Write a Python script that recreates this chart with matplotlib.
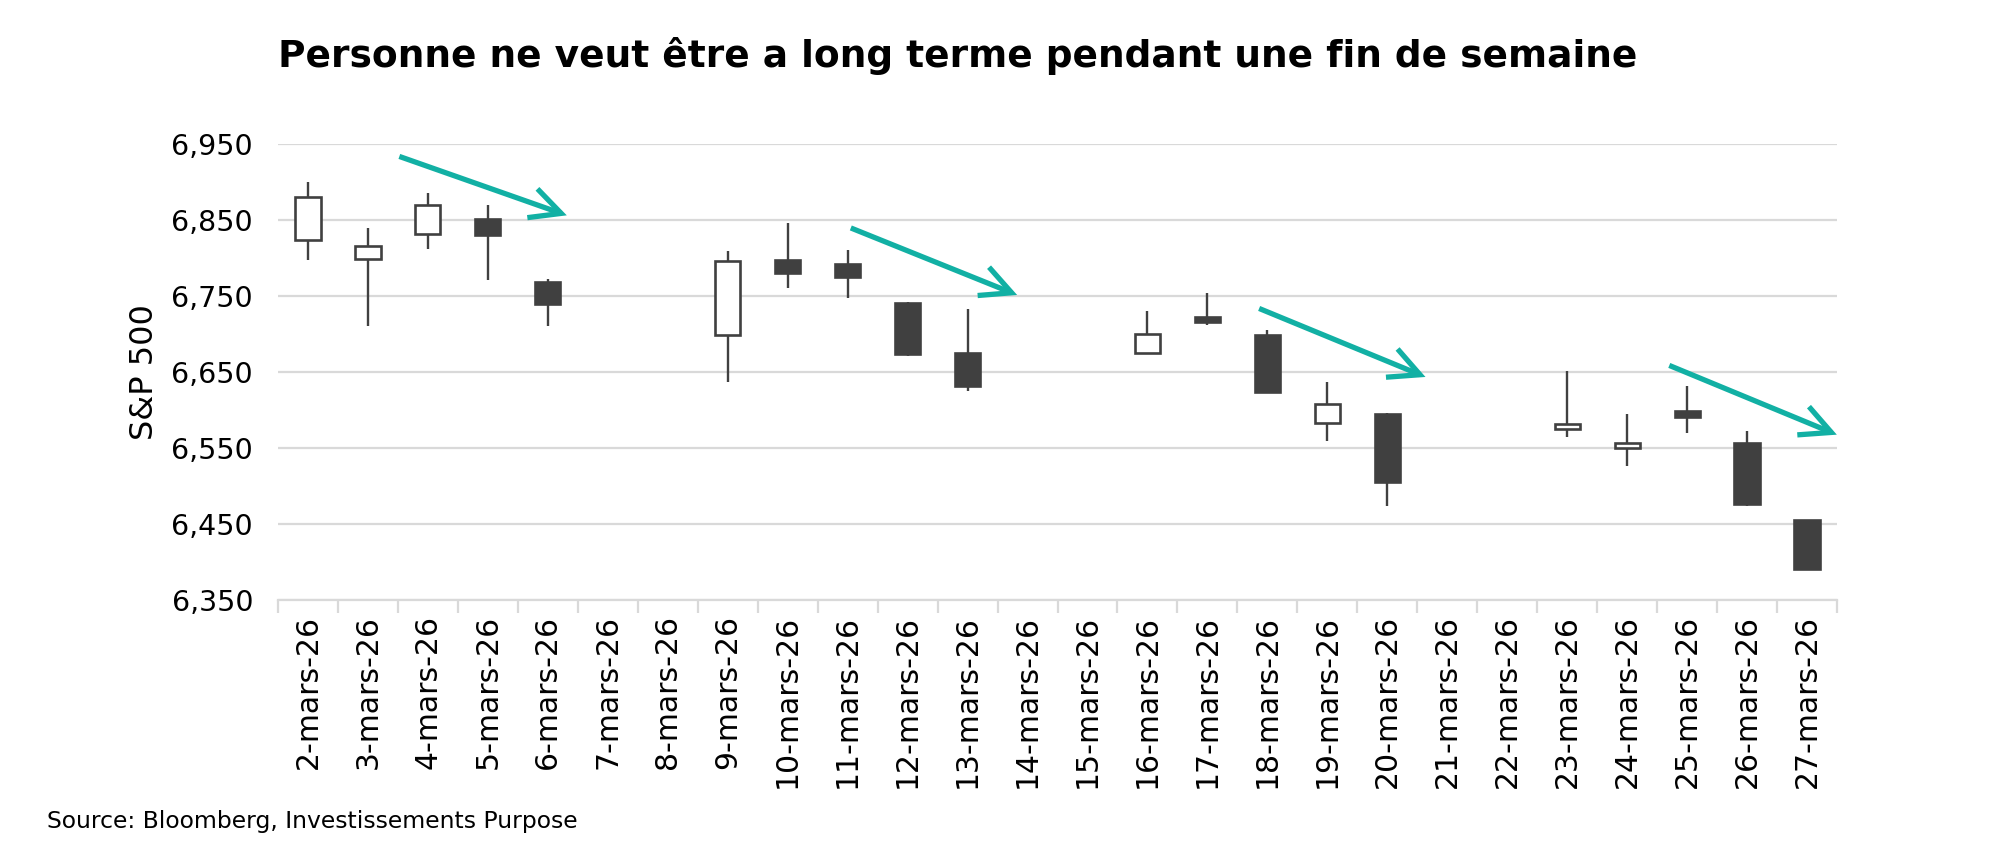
import numpy as np
import matplotlib.pyplot as plt
from matplotlib.patches import FancyArrowPatch

plt.rcParams['font.family'] = ['DejaVu Sans']

# Daily S&P 500 candles, 2 to 27 March 2026 (weekends left empty)
days = list(range(2, 28))
labels = [f'{d}-mars-26' for d in days]
opens  = [6824, 6799, 6831, 6852, 6769, None, None, 6699, 6798, 6792, 6741, 6675, None,
          None, 6675, 6723, 6699, 6583, 6595, None, None, 6575, 6550, 6599, 6556, 6455]
highs  = [6900, 6839, 6885, 6870, 6772, None, None, 6809, 6846, 6811, 6742, 6733, None,
          None, 6730, 6754, 6705, 6637, 6596, None, None, 6651, 6595, 6632, 6572, 6455]
lows   = [6797, 6711, 6812, 6771, 6711, None, None, 6637, 6760, 6747, 6671, 6625, None,
          None, 6674, 6712, 6622, 6559, 6474, None, None, 6565, 6526, 6569, 6474, 6391]
closes = [6881, 6816, 6870, 6830, 6739, None, None, 6796, 6780, 6775, 6673, 6632, None,
          None, 6700, 6716, 6624, 6608, 6505, None, None, 6581, 6557, 6591, 6476, 6391]

# trend arrows (x in category index, y in index points)
arrow_x0 = [1.48, 9.01, 15.82, 22.66]
arrow_y0 = [6935, 6841, 6735, 6660]
arrow_x1 = [4.36, 11.87, 18.68, 25.54]
arrow_y1 = [6855, 6750, 6642, 6566]

EDGE = '#404040'
TEAL = '#12b0a4'
GRID = '#d9d9d9'

fig = plt.figure(figsize=(20, 8.63), dpi=100)
ax = fig.add_axes([0.139, 0.305, 0.7795, 0.528])

x = np.arange(len(days))
for i in x:
    if opens[i] is None:
        continue
    o, h, l, c = opens[i], highs[i], lows[i], closes[i]
    ax.vlines(i, l, h, color=EDGE, linewidth=1.7, zorder=2)
    fill = 'white' if c >= o else EDGE
    ax.bar(i, abs(c - o), bottom=min(o, c), width=0.42, color=fill,
           edgecolor=EDGE, linewidth=1.9, zorder=3)

for x0, y0, x1, y1 in zip(arrow_x0, arrow_y0, arrow_x1, arrow_y1):
    arr = FancyArrowPatch((x0, y0), (x1, y1), arrowstyle='->,head_length=1.1,head_width=0.55',
                          mutation_scale=20, color=TEAL, linewidth=3.8,
                          capstyle='butt', joinstyle='miter', zorder=4)
    ax.add_patch(arr)

ax.set_xlim(-0.5, len(days) - 0.5)
ax.set_ylim(6350, 6950)
ax.set_yticks(np.arange(6350, 6951, 100))
ax.set_yticklabels([f'{v:,}' for v in range(6350, 6951, 100)], fontsize=20.5)
ax.yaxis.grid(True, color=GRID, linewidth=1.6)
ax.set_axisbelow(True)

ax.set_xticks(x)
ax.set_xticklabels(labels, rotation=90, fontsize=21.5)
ax.set_xticks(np.arange(-0.5, len(days), 1), minor=True)
ax.tick_params(axis='x', which='major', length=0, pad=11)
ax.tick_params(axis='x', which='minor', length=9, width=1.6, color=GRID)
ax.tick_params(axis='y', length=0, pad=18)

for s in ['top', 'right', 'left']:
    ax.spines[s].set_visible(False)
ax.spines['bottom'].set_color(GRID)
ax.spines['bottom'].set_linewidth(1.6)

ax.set_ylabel('S&P 500', fontsize=23, labelpad=8)

fig.text(0.139, 0.935, 'Personne ne veut être a long terme pendant une fin de semaine',
         fontsize=27, fontweight='bold', ha='left', va='center')
fig.text(0.0235, 0.048, 'Source: Bloomberg, Investissements Purpose', fontsize=16.9,
         ha='left', va='center')

fig.savefig('out.png', dpi=100)
